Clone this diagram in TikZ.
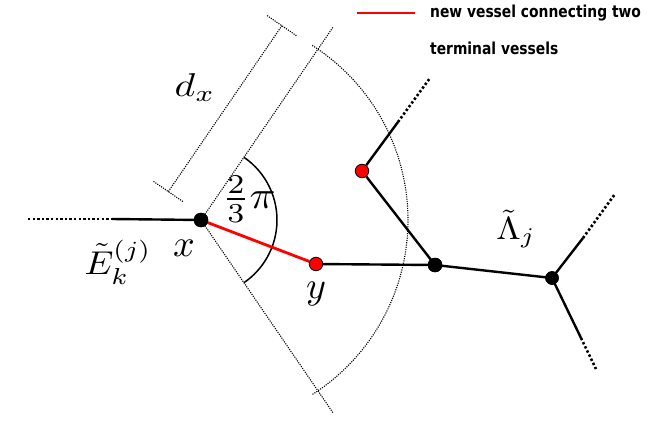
\RequirePackage{fix-cm}
\documentclass[tikz,border=0pt]{standalone}
\usepackage{fontspec}
\newfontfamily\legendfont{DejaVu Sans}
\usetikzlibrary{calc}
\tikzset{
  vessel/.style={line width=2.4pt, black},
  newvessel/.style={line width=2.8pt, red},
  thickdots/.style={line width=2.6pt, dash pattern=on 2.4pt off 2.2pt},
  thindots/.style={line width=1.1pt, dash pattern=on 1.1pt off 1.2pt},
  blackdot/.style={circle, fill=black, draw=black, inner sep=0pt, minimum size=14pt},
  reddot/.style={circle, fill=red, draw=black, line width=0.8pt, inner sep=0pt, minimum size=13.5pt},
  lbl/.style={inner sep=0pt},
  legendtext/.style={inner sep=0pt, anchor=west, xscale=0.84, font=\legendfont\bfseries\fontsize{16.5}{18}\selectfont},
}
\begin{document}
\begin{tikzpicture}[x=1pt,y=1pt]
\useasboundingbox (0,0) rectangle (664,-433);
% points
\coordinate (L0) at (28,-219);
\coordinate (L1) at (112,-219);
\coordinate (Bu) at (398,-122);
\coordinate (Bd) at (430,-78);
\coordinate (Cu) at (583,-238);
\coordinate (Cud) at (615,-194);
\coordinate (Cl) at (581,-338);
\coordinate (Cld) at (596,-369);
\coordinate (X) at (201,-220);
% radius lines
\coordinate (Rup) at ($(X)+(55.6:234)$);
\coordinate (Rdn) at ($(X)+(-55.6:234)$);
\draw[thindots] (X) -- (Rup);
\draw[thindots] (X) -- (Rdn);
\draw[thindots] ($(X)+(57.5:207)$) arc[start angle=57.5, end angle=-57.5, radius=207];
% dimension line
\coordinate (D0) at ($(X)+(145.6:43)+(55.6:5)$);
\coordinate (D1) at ($(X)+(145.6:43)+(55.6:206)$);
\draw[thindots] (D0) -- (D1);
\draw[thindots] ($(D0)+(145.6:18)$) -- ($(D0)+(-34.4:18)$);
\draw[thindots] ($(D1)+(145.6:18)$) -- ($(D1)+(-34.4:18)$);
% angle arc
\draw[line width=1.5pt] ($(X)+(55.6:76)$) arc[start angle=55.6, end angle=-55.6, radius=76];
% nodes
\node[blackdot] (x) at (X) {};
\node[reddot] (y) at (316,-264) {};
\node[blackdot] (A) at (435,-265) {};
\node[reddot] (B) at (362,-171) {};
\node[blackdot, minimum size=13pt] (C) at (552,-278) {};
% vessels
\draw[thickdots] (L0) -- (L1);
\draw[vessel] (L1) -- (x.center);
\draw[newvessel] (x.center) -- (y);
\draw[vessel] (y) -- (A.center);
\draw[vessel] (B) -- (A.center);
\draw[vessel] (B) -- (Bu);
\draw[thickdots] (Bu) -- (Bd);
\draw[vessel] (A.center) -- (C.center);
\draw[vessel] (C.center) -- (Cu);
\draw[thickdots] (Cu) -- (Cud);
\draw[vessel] (C.center) -- (Cl);
\draw[thickdots] (Cl) -- (Cld);
\node[blackdot] at (X) {};
\node[blackdot] at (A) {};
\node[blackdot, minimum size=13pt] at (C) {};
% labels
\node[lbl, scale=3.3, xscale=1.2] (dx) at (195,-88) {$d_x$};
\node[lbl, scale=3.8] (xl) at (184,-248) {$x$};
\node[lbl, scale=3.8] (yl) at (316,-294) {$y$};
\node[lbl, scale=3.3, xscale=1.1] (El) at (118,-262) {$\tilde{E}_k^{(j)}$};
\node[lbl, scale=3.2, xscale=1.1] (Ll) at (516,-229) {$\tilde{\Lambda}_j$};
\node[lbl, scale=3.9, xscale=1.1] (ang) at (249,-199) {$\frac{2}{3}\pi$};
% legend
\coordinate (G0) at (357,-13);
\coordinate (G1) at (415,-13);
\draw[red, line width=2pt] (G0) -- (G1);
\node[legendtext] (t1) at (430,-13) {new vessel connecting two};
\node[legendtext] (t2) at (430,-48) {terminal vessels};
\end{tikzpicture}
\end{document}
